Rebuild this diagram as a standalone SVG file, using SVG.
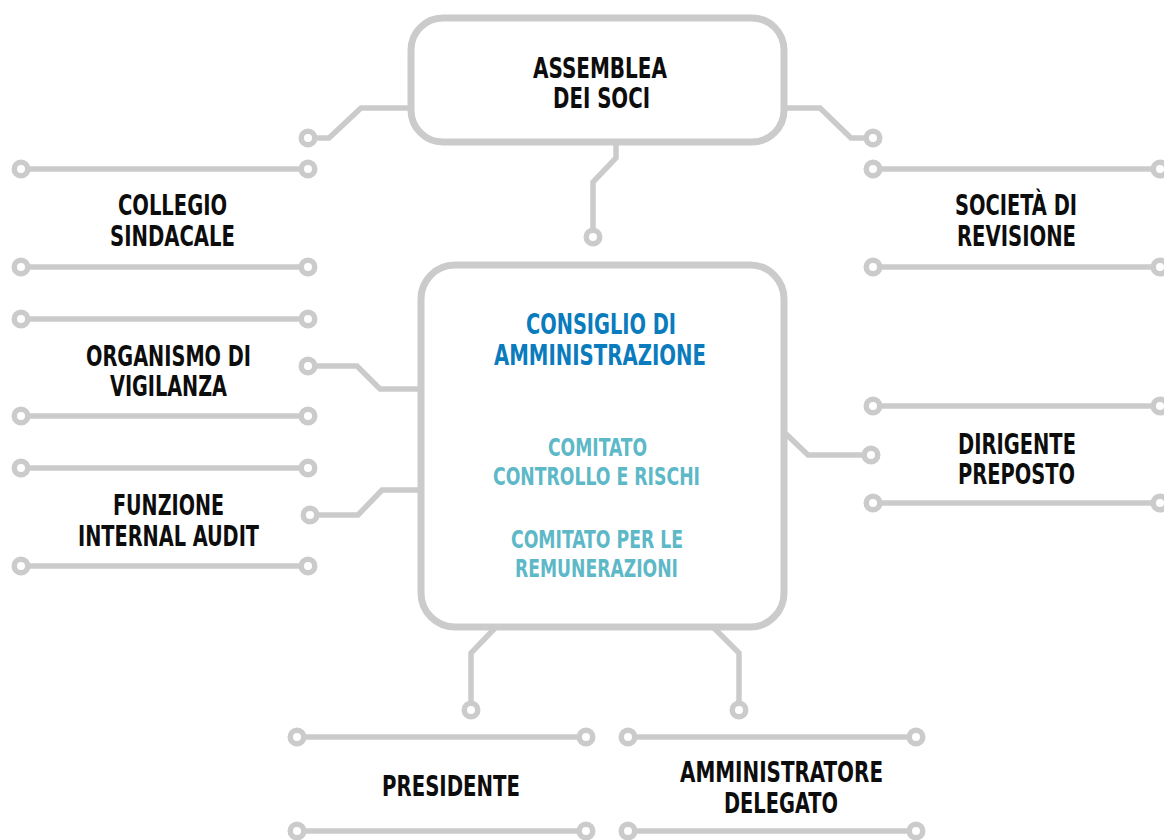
<svg xmlns="http://www.w3.org/2000/svg" width="1164" height="840" viewBox="0 0 1164 840">
<style>
.w{fill:none;stroke:#cbcbcb;stroke-width:5.5;stroke-linejoin:miter}
.b{fill:#fff;stroke:#cbcbcb;stroke-width:7}
.c{fill:#fff;stroke:#cbcbcb;stroke-width:5.5}
.t{font-family:"Liberation Sans Narrow","DejaVu Sans Condensed","Liberation Sans",sans-serif;font-weight:bold;font-size:28px;fill:#0d0d0d}
.h{fill:#0a7bbd}
.s{fill:#5db8c7;font-size:25px}
</style>
<g id="connectors">
<path class="w" d="M411 108 H361 L329 138 H308"/>
<path class="w" d="M784 108 H820 L851 138 H873"/>
<path class="w" d="M616 142 V158 L593 182 V237"/>
<path class="w" d="M421 389 H380 L357 366 H308"/>
<path class="w" d="M421 490 H382 L358 515 H310"/>
<path class="w" d="M784 432 L808 455 H871"/>
<path class="w" d="M496 627 L471 653 V710"/>
<path class="w" d="M713 627 L739 653 V710"/>
<g>
<circle class="c" cx="308" cy="138" r="6.75"/>
<circle class="c" cx="873" cy="138" r="6.75"/>
<circle class="c" cx="593" cy="237" r="6.75"/>
<circle class="c" cx="308" cy="366" r="6.75"/>
<circle class="c" cx="310" cy="515" r="6.75"/>
<circle class="c" cx="871" cy="455" r="6.75"/>
<circle class="c" cx="471" cy="710" r="6.75"/>
<circle class="c" cx="739" cy="710" r="6.75"/>
</g>
</g>
<g id="assemblea">
<rect class="b" x="411" y="18" width="373" height="124" rx="32"/>
<text class="t" x="533" y="78" textLength="134" lengthAdjust="spacingAndGlyphs">ASSEMBLEA</text>
<text class="t" x="553" y="108" textLength="97" lengthAdjust="spacingAndGlyphs">DEI SOCI</text>
</g>
<g id="cda">
<rect class="b" x="421" y="265" width="363" height="362" rx="34"/>
<text class="t h" x="526" y="334" textLength="150" lengthAdjust="spacingAndGlyphs">CONSIGLIO DI</text>
<text class="t h" x="494" y="365" textLength="212" lengthAdjust="spacingAndGlyphs">AMMINISTRAZIONE</text>
<text class="t s" x="548" y="456" textLength="99" lengthAdjust="spacingAndGlyphs">COMITATO</text>
<text class="t s" x="493" y="485" textLength="207" lengthAdjust="spacingAndGlyphs">CONTROLLO E RISCHI</text>
<text class="t s" x="511" y="548" textLength="172" lengthAdjust="spacingAndGlyphs">COMITATO PER LE</text>
<text class="t s" x="515" y="577" textLength="163" lengthAdjust="spacingAndGlyphs">REMUNERAZIONI</text>
</g>
<g id="collegio">
<path class="w" d="M21 169 H308 M21 267 H308"/>
<circle class="c" cx="21" cy="169" r="6.75"/><circle class="c" cx="308" cy="169" r="6.75"/>
<circle class="c" cx="21" cy="267" r="6.75"/><circle class="c" cx="308" cy="267" r="6.75"/>
<text class="t" x="118" y="215" textLength="109" lengthAdjust="spacingAndGlyphs">COLLEGIO</text>
<text class="t" x="110" y="246" textLength="125" lengthAdjust="spacingAndGlyphs">SINDACALE</text>
</g>
<g id="organismo">
<path class="w" d="M21 319 H308 M21 416 H308"/>
<circle class="c" cx="21" cy="319" r="6.75"/><circle class="c" cx="308" cy="319" r="6.75"/>
<circle class="c" cx="21" cy="416" r="6.75"/><circle class="c" cx="308" cy="416" r="6.75"/>
<text class="t" x="86" y="366" textLength="165" lengthAdjust="spacingAndGlyphs">ORGANISMO DI</text>
<text class="t" x="110" y="396" textLength="117" lengthAdjust="spacingAndGlyphs">VIGILANZA</text>
</g>
<g id="audit">
<path class="w" d="M21 468 H308 M21 566 H308"/>
<circle class="c" cx="21" cy="468" r="6.75"/><circle class="c" cx="308" cy="468" r="6.75"/>
<circle class="c" cx="21" cy="566" r="6.75"/><circle class="c" cx="308" cy="566" r="6.75"/>
<text class="t" x="113" y="515" textLength="111" lengthAdjust="spacingAndGlyphs">FUNZIONE</text>
<text class="t" x="78" y="546" textLength="181" lengthAdjust="spacingAndGlyphs">INTERNAL AUDIT</text>
</g>
<g id="revisione">
<path class="w" d="M873 169 H1160 M873 267 H1160"/>
<circle class="c" cx="873" cy="169" r="6.75"/><circle class="c" cx="1160" cy="169" r="6.75"/>
<circle class="c" cx="873" cy="267" r="6.75"/><circle class="c" cx="1160" cy="267" r="6.75"/>
<text class="t" x="955" y="215" textLength="122" lengthAdjust="spacingAndGlyphs">SOCIETÀ DI</text>
<text class="t" x="957" y="246" textLength="119" lengthAdjust="spacingAndGlyphs">REVISIONE</text>
</g>
<g id="dirigente">
<path class="w" d="M873 406 H1160 M873 503 H1160"/>
<circle class="c" cx="873" cy="406" r="6.75"/><circle class="c" cx="1160" cy="406" r="6.75"/>
<circle class="c" cx="873" cy="503" r="6.75"/><circle class="c" cx="1160" cy="503" r="6.75"/>
<text class="t" x="958" y="454" textLength="118" lengthAdjust="spacingAndGlyphs">DIRIGENTE</text>
<text class="t" x="958" y="484" textLength="117" lengthAdjust="spacingAndGlyphs">PREPOSTO</text>
</g>
<g id="presidente">
<path class="w" d="M297 737 H586 M297 831 H586"/>
<circle class="c" cx="297" cy="737" r="6.75"/><circle class="c" cx="586" cy="737" r="6.75"/>
<circle class="c" cx="297" cy="831" r="6.75"/><circle class="c" cx="586" cy="831" r="6.75"/>
<text class="t" x="382" y="796" textLength="138" lengthAdjust="spacingAndGlyphs">PRESIDENTE</text>
</g>
<g id="ad">
<path class="w" d="M628 737 H916 M628 831 H916"/>
<circle class="c" cx="628" cy="737" r="6.75"/><circle class="c" cx="916" cy="737" r="6.75"/>
<circle class="c" cx="628" cy="831" r="6.75"/><circle class="c" cx="916" cy="831" r="6.75"/>
<text class="t" x="680" y="782" textLength="203" lengthAdjust="spacingAndGlyphs">AMMINISTRATORE</text>
<text class="t" x="724" y="813" textLength="114" lengthAdjust="spacingAndGlyphs">DELEGATO</text>
</g>
</svg>
